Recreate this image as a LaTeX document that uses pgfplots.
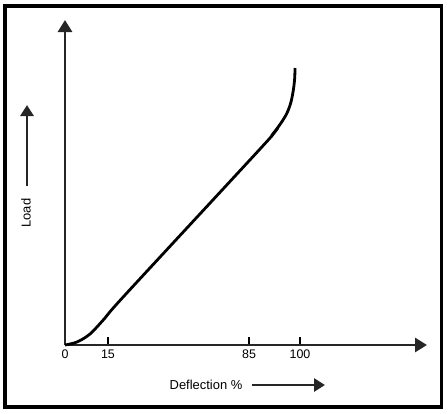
\documentclass[border=0pt]{standalone}
\usepackage{pgfplots}
\pgfplotsset{compat=1.18}
\usepackage{fontspec}
\setmainfont{Liberation Sans}
\usetikzlibrary{arrows.meta}
\begin{document}
\begin{tikzpicture}
\begin{axis}[
  x=1bp, y=1bp,
  xmin=0, xmax=362, ymin=0, ymax=325,
  axis lines=left,
  axis line style={line width=2.8bp, black!85, -{Triangle[width=14bp,length=12bp]}},
  clip=false,
  xtick={0,43,184,235},
  xticklabels={0,15,85,100},
  ytick=\empty,
  tick align=inside,
  major tick length=8bp,
  tick style={line width=1.5bp, black},
  x tick label style={font=\fontsize{12.5}{14}\selectfont, yshift=-1bp},
  /pgf/number format/assume math mode=true,
]
\addplot[line width=2.8bp, black, smooth] coordinates {
 (0,0) (12,3) (25,11) (40,27) (60,50) (195,196)
 (207,210) (216,222) (222,232) (226,243) (228.5,256) (229.7,267) (230,277)
};
\coordinate (O) at (axis cs:0,0);
\node[font=\fontsize{13}{15}\selectfont] at (axis cs:141,-40) {Deflection \%};
\draw[line width=2.8bp, black!85, -{Triangle[width=13bp,length=11bp]}] (axis cs:187,-40) -- (axis cs:260,-40);
\node[font=\fontsize{13}{15}\selectfont, rotate=90] at (axis cs:-39,132) {Load};
\draw[line width=2.8bp, black!85, -{Triangle[width=13bp,length=11bp]}] (axis cs:-38,159) -- (axis cs:-38,240);
\end{axis}
\begin{scope}[shift={(O)}, x=1bp, y=1bp]
\path[use as bounding box] (-65,-68) rectangle (383,345);
\draw[line width=3.6bp] (-60,-62) rectangle (376.5,339.3);
\end{scope}
\end{tikzpicture}
\end{document}
